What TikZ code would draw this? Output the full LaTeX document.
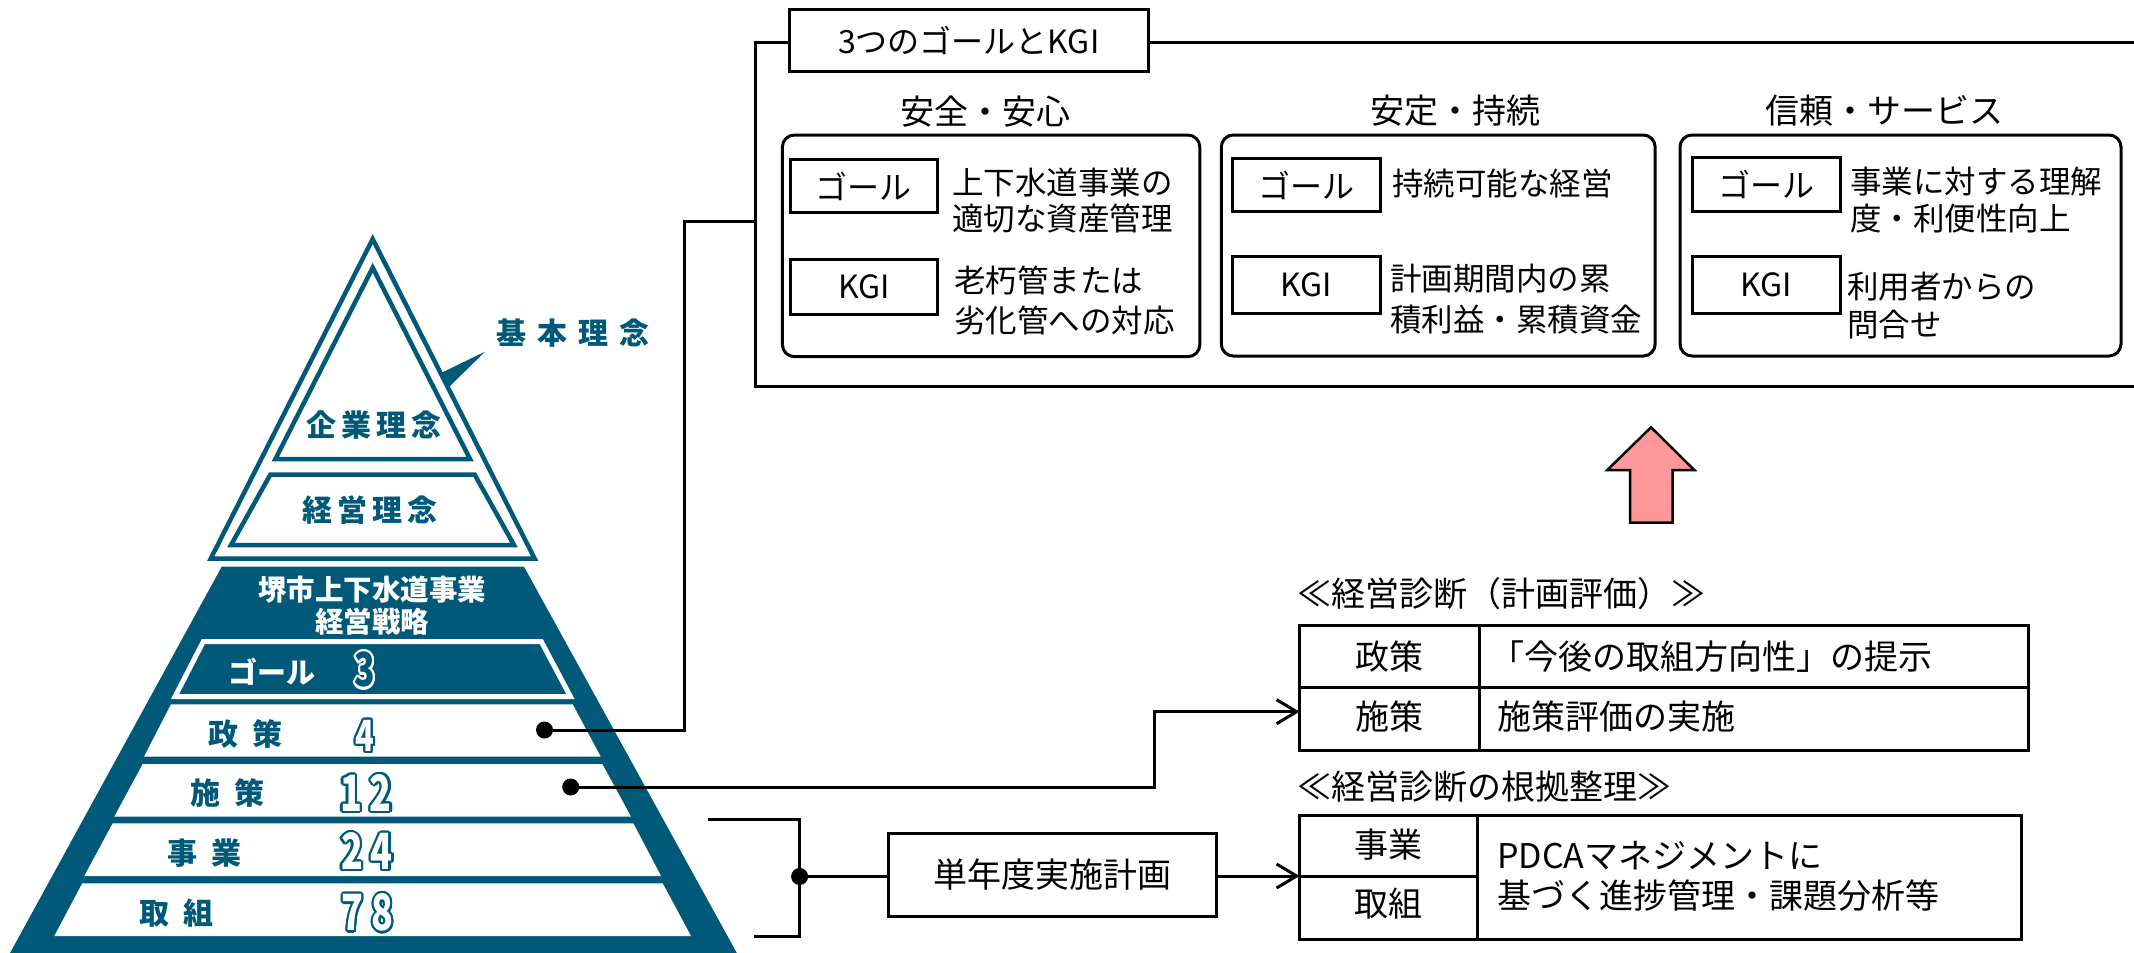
\documentclass[tikz,border=0pt]{standalone}
\usepackage{fontspec}
\usepackage{contour}
\usetikzlibrary{arrows.meta}
\newfontfamily\jp{Noto Sans CJK JP}
\newfontfamily\digf[FakeStretch=0.72]{Noto Sans CJK JP}
\definecolor{pyr}{RGB}{0,89,120}
\definecolor{pinkarrow}{RGB}{255,153,153}
\contourlength{2.2pt}
\contournumber{16}
\newcommand{\fsz}[1]{\fontsize{#1}{#1}\selectfont}
\newcommand{\odig}[1]{\contour{pyr}{\textcolor{white}{#1}}}
\begin{document}
\begin{tikzpicture}[x=1pt,y=-1pt,
  pyrlab/.style={font=\jp\bfseries\fsz{30}, text=pyr, inner sep=0pt},
  wlab/.style={font=\jp\bfseries\fsz{29}, text=white, inner sep=0pt},
  dig/.style={font=\digf\bfseries\fsz{50}, inner sep=0pt},
  conn/.style={line width=3pt},
  arr/.style={conn, -{Straight Barb[length=20pt,width=24pt]}},
  dot/.style={circle, fill=black, inner sep=0pt, minimum size=17pt},
  lbox/.style={draw, line width=3pt, inner sep=0pt, font=\jp\fsz{32}},
  gbox/.style={draw, line width=3pt, rounded corners=12pt},
  gtitle/.style={font=\jp\fsz{34}, inner sep=0pt},
  body/.style={font=\jp\fontsize{31.5}{#1}\selectfont, inner sep=0pt, anchor=west, align=left},
  cell/.style={font=\jp\fsz{34}, inner sep=0pt},
  cellL/.style={font=\jp\fontsize{34}{40}\selectfont, inner sep=0pt, anchor=west, align=left}
]
\useasboundingbox (0,0) rectangle (2134,953);

% ---------- pyramid ----------
\fill[pyr] (221.7,566.7) -- (524,566.7) -- (740.7,960) -- (6.2,960) -- cycle;
\draw[pyr, line width=4.5pt, fill=white] (372.7,239) -- (534.6,558.5) -- (210.8,558.5) -- cycle;
\draw[pyr, line width=4.5pt] (372.7,267.7) -- (470,459) -- (275.4,459) -- cycle;
\draw[pyr, line width=4.5pt] (270.4,474.5) -- (474.6,474.5) -- (514,545) -- (231,545) -- cycle;
\fill[pyr] (441,373) -- (485,351.7) -- (448.5,387.5) -- cycle;

\draw[white, line width=5pt, fill=pyr] (203.3,641.6) -- (541.3,641.6) -- (570.5,696.7) -- (175,696.7) -- cycle;
\fill[white] (171,704.3) -- (572.7,704.3) -- (600.7,756.7) -- (144,756.7) -- cycle;
\fill[white] (142.7,764) -- (602.3,764) -- (631,816.7) -- (114.3,816.7) -- cycle;
\fill[white] (112.7,823.3) -- (633.3,823.3) -- (661,876) -- (84.3,876) -- cycle;
\fill[white] (82.3,883.3) -- (662.7,883.3) -- (691,936) -- (54.3,936) -- cycle;

\node[pyrlab] (kihon) at (573,333.3) {基\hspace{11pt}本\hspace{11pt}理\hspace{11pt}念};
\node[pyrlab] (kigyo) at (374,425) {企\hspace{5pt}業\hspace{5pt}理\hspace{5pt}念};
\node[pyrlab] (keiei) at (370,510) {経\hspace{5pt}営\hspace{5pt}理\hspace{5pt}念};
\node[wlab, font=\jp\bfseries\fontsize{28.5}{32.4}\selectfont, align=center] (title) at (372,605.5) {堺市上下水道事業\\経営戦略};
\node[wlab] (goal) at (271.7,671.7) {ゴール};
\node[pyrlab] (seisaku) at (245.8,734) {政\hspace{14pt}策};
\node[pyrlab] (shisaku) at (227.5,793.3) {施\hspace{14pt}策};
\node[pyrlab] (jigyo) at (204.2,853.3) {事\hspace{14pt}業};
\node[pyrlab] (torikumi) at (176.3,913.3) {取\hspace{14pt}組};

\node[dig, font=\digf\bfseries\fsz{47}] (n3) at (365,671) {\contour{white}{\textcolor{pyr}{3}}};
\node[dig, font=\digf\bfseries\fsz{43}] (n4) at (365,737) {\odig{4}};
\node[dig] (n12) at (366,794) {\odig{1\hspace{8pt}2}};
\node[dig] (n24) at (367,852.3) {\odig{2\hspace{8pt}4}};
\node[dig] (n78) at (367.6,913.8) {\odig{7\hspace{8pt}8}};

% ---------- top frame ----------
\draw[line width=3pt] (2140,42.7) -- (755.6,42.7) -- (755.6,386.7) -- (2140,386.7);
\coordinate (f1) at (755.6,221);
\node[lbox, fill=white, minimum width=359.4pt, minimum height=62.4pt] (lbl) at (968.8,40.5) {3つのゴールとKGI};

\node[gtitle] (t1) at (985.5,111.7) {安全・安心};
\node[gtitle] (t2) at (1455,111) {安定・持続};
\node[gtitle] (t3) at (1884.5,110.5) {信頼・サービス};

\draw[gbox] (782.4,135) rectangle (1199.8,356.7);
\draw[gbox] (1221.3,135) rectangle (1655.2,356);
\draw[gbox] (1680,135) rectangle (2121,356);

\node[lbox, minimum width=147.8pt, minimum height=53.4pt] (g1) at (863.9,186) {ゴール};
\node[lbox, minimum width=147.8pt, minimum height=54.7pt] (k1) at (863.9,286.7) {KGI};
\node[lbox, minimum width=148.2pt, minimum height=53.4pt] (g2) at (1306.5,185) {ゴール};
\node[lbox, minimum width=148.2pt, minimum height=56.6pt] (k2) at (1306.5,285) {KGI};
\node[lbox, minimum width=147.4pt, minimum height=54pt] (g3) at (1766.3,184.7) {ゴール};
\node[lbox, minimum width=147.4pt, minimum height=56.6pt] (k3) at (1766.3,285) {KGI};

\node[body=36] (g1t) at (952,201) {上下水道事業の\\適切な資産管理};
\node[body=40] (k1t) at (954,300) {老朽管または\\劣化管への対応};
\node[body=36] (g2t) at (1392,183.5) {持続可能な経営};
\node[body=41] (k2t) at (1390,299.5) {計画期間内の累\\積利益・累積資金};
\node[body=37] (g3t) at (1850,200.5) {事業に対する理解\\度・利便性向上};
\node[body=38] (k3t) at (1847,306) {利用者からの\\問合せ};

% ---------- red arrow ----------
\draw[line width=2.5pt, fill=pinkarrow] (1651,427.3) -- (1694.3,470) -- (1672.7,470) -- (1672.7,522.7) -- (1630,522.7) -- (1630,470) -- (1607.3,470) -- cycle;

% ---------- tables ----------
\node[anchor=west, font=\jp\fsz{34}, inner sep=0pt] (h1) at (1297,593.3) {≪経営診断（計画評価）≫};
\draw[line width=3pt] (1299.5,625.7) rectangle (2028,750.7);
\draw[line width=3pt] (1299.5,687.7) -- (2028,687.7);
\draw[line width=3pt] (1479.6,625.7) -- (1479.6,750.7);
\coordinate (t1in) at (1299.5,711.7);
\node[cell] (c11) at (1389.5,656.7) {政策};
\node[cell] (c21) at (1389.5,717) {施策};
\node[cellL] (c12) at (1490,656.7) {「今後の取組方向性」の提示};
\node[cellL] (c22) at (1497,717) {施策評価の実施};

\node[anchor=west, font=\jp\fsz{34}, inner sep=0pt] (h2) at (1297,786.7) {≪経営診断の根拠整理≫};
\draw[line width=3pt] (1299.5,815) rectangle (2021.4,939);
\draw[line width=3pt] (1299.5,876) -- (1477,876);
\draw[line width=3pt] (1477,815) -- (1477,939);
\coordinate (t2in) at (1299.5,876);
\node[cell] (c31) at (1388,845) {事業};
\node[cell] (c41) at (1388,903.3) {取組};
\node[cellL] (c32) at (1497,876.7) {PDCAマネジメントに\\基づく進捗管理・課題分析等};

% ---------- plan box and connectors ----------
\node[lbox, font=\jp\fsz{34}, minimum width=327.2pt, minimum height=82.7pt] (plan) at (1052.4,874.7) {単年度実施計画};

\node[dot] (d1) at (544.5,730) {};
\node[dot] (d2) at (570.7,787) {};
\node[dot] (d3) at (799.6,876.5) {};

\draw[conn] (d1.center) -- (684.8,730) |- (f1);
\draw[arr] (d2.center) -- (1154.5,787) |- (t1in);
\draw[conn] (708,819.3) -- (799.6,819.3) -- (799.6,936.7) -- (754,936.7);
\draw[conn] (d3.center) -- (plan.west |- d3.center);
\draw[arr] (plan.east |- t2in) -- (t2in);
\end{tikzpicture}
\end{document}
